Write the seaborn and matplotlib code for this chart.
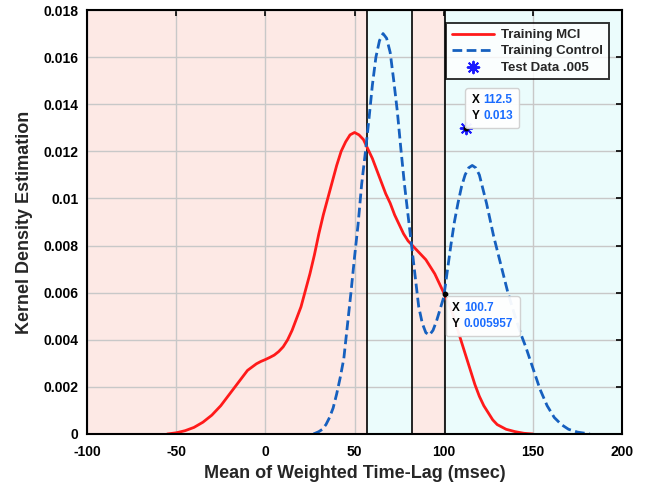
import matplotlib
matplotlib.use("Agg")
import matplotlib.pyplot as plt
import seaborn as sns
import pandas as pd
from matplotlib.offsetbox import TextArea, HPacker, VPacker, AnnotationBbox

# ---- data ----
mci_x = [-55, -50, -45, -40, -35, -30, -25, -20, -15, -10, -5, -2.5, 0, 2.5, 5, 7.5, 10,
         12.5, 15, 17.5, 20, 22.5, 25, 27.5, 30, 32.5, 35, 37.5, 40, 42.5, 45, 47.5, 50,
         52.5, 55, 57.5, 60, 62.5, 65, 67.5, 70, 72.5, 75, 77.5, 80, 82.5, 85, 87.5, 90,
         92.5, 95, 97.5, 100, 102.5, 105, 107.5, 110, 112.5, 115, 117.5, 120, 122.5, 125,
         127.5, 130, 135, 140, 145, 150]
mci_y = [0, 0.00005, 0.00014, 0.00028, 0.0005, 0.0008, 0.0012, 0.0017, 0.0022, 0.0027,
         0.00298, 0.00308, 0.00316, 0.00325, 0.00335, 0.0035, 0.0037, 0.0040, 0.0044,
         0.0049, 0.0054, 0.0061, 0.0068, 0.0076, 0.0085, 0.0093, 0.0100, 0.0107, 0.0114,
         0.0120, 0.0124, 0.0127, 0.0128, 0.0127, 0.0125, 0.0121, 0.0117, 0.0112, 0.0107,
         0.0102, 0.0098, 0.0093, 0.0089, 0.0085, 0.0082, 0.0080, 0.0078, 0.0076, 0.0074,
         0.0071, 0.0068, 0.0064, 0.0060, 0.0056, 0.0051, 0.0045, 0.0039, 0.0033, 0.0027,
         0.0021, 0.0016, 0.0012, 0.0009, 0.0006, 0.0004, 0.0002, 0.0001, 0.00003, 0]

ctrl_x = [27, 30, 32, 34, 36, 38, 40, 42, 44, 46, 48, 50, 52, 54, 56, 58, 60, 62, 64, 66,
          68, 70, 72, 74, 76, 78, 80, 82, 84, 86, 88, 90, 92, 94, 96, 98, 100, 102, 104,
          106, 108, 110, 112, 114, 116, 118, 120, 122, 124, 126, 128, 130, 132, 134, 136,
          138, 140, 143, 146, 150, 154, 158, 162, 166, 170, 175, 182]
ctrl_y = [0, 0.0001, 0.0002, 0.0004, 0.0007, 0.0011, 0.0017, 0.0024, 0.0032, 0.0046,
          0.0060, 0.0075, 0.0089, 0.0106, 0.0119, 0.0133, 0.0148, 0.0160, 0.0167, 0.0170,
          0.0168, 0.0162, 0.0150, 0.0137, 0.0121, 0.0106, 0.0093, 0.0080, 0.0067, 0.0054,
          0.0047, 0.0043, 0.0042, 0.0044, 0.0048, 0.0053, 0.0058, 0.0069, 0.0080, 0.0090,
          0.0098, 0.0105, 0.0110, 0.0113, 0.0114, 0.0113, 0.0110, 0.0104, 0.0098, 0.0091,
          0.0084, 0.0078, 0.0072, 0.0066, 0.0060, 0.0055, 0.0050, 0.0043, 0.0037, 0.0028,
          0.0019, 0.0012, 0.0007, 0.0004, 0.0002, 0.00008, 0]

test_x = [112.5]
test_y = [0.013]

thresholds = [56.9, 82.1, 100.7]
tip1 = (112.5, 0.013, "112.5", "0.013")
tip2 = (100.7, 0.005957, "100.7", "0.005957")

x_ticks = [-100, -50, 0, 50, 100, 150, 200]
y_ticks = [0, 0.002, 0.004, 0.006, 0.008, 0.01, 0.012, 0.014, 0.016, 0.018]
y_tick_labels = ["0", "0.002", "0.004", "0.006", "0.008", "0.01", "0.012", "0.014", "0.016", "0.018"]

# ---- style ----
sns.set_style("white")
plt.rcParams["font.family"] = ["Liberation Sans", "DejaVu Sans"]
plt.rcParams["font.weight"] = "bold"

PINK = "#fde9e5"
CYAN = "#ebfcfc"
RED = "#ff1a1a"
BLUE = "#1660bf"
TIPBLUE = "#1a6cff"

fig = plt.figure(figsize=(6.5, 4.86), dpi=100)
ax = fig.add_axes([0.1338, 0.107, 0.8232, 0.8724])

xmin, xmax = x_ticks[0], x_ticks[-1]
bounds = [xmin] + thresholds + [xmax]
colors = [PINK, CYAN, PINK, CYAN]
for a, b, c in zip(bounds[:-1], bounds[1:], colors):
    ax.axvspan(a, b, color=c, zorder=0, lw=0)
for t in thresholds:
    ax.axvline(t, color="black", lw=1.2, zorder=1.5)

ax.set_axisbelow(True)
ax.grid(True, color="#c8c8c8", lw=1.0, zorder=1)

df_m = pd.DataFrame({"x": mci_x, "y": mci_y})
df_c = pd.DataFrame({"x": ctrl_x, "y": ctrl_y})
sns.lineplot(data=df_m, x="x", y="y", ax=ax, color=RED, lw=2.0, label="Training MCI",
             sort=False, zorder=3)
sns.lineplot(data=df_c, x="x", y="y", ax=ax, color=BLUE, lw=2.0, label="Training Control",
             sort=False, zorder=3)
ax.lines[-1].set_dashes([3.5, 1.6])
df_t = pd.DataFrame({"x": test_x, "y": test_y})
sns.scatterplot(data=df_t, x="x", y="y", ax=ax, marker=(8, 2, 0), s=70, color="#1a1aff",
                linewidth=1.4, label="Test Data .005", zorder=4)
ax.scatter(test_x, test_y, s=10, color="black", zorder=5)
ax.scatter([tip2[0]], [tip2[1]], s=10, color="black", zorder=5)

ax.set_xlim(xmin, xmax)
ax.set_ylim(y_ticks[0], y_ticks[-1])
ax.set_xticks(x_ticks)
ax.set_xticklabels([str(v) for v in x_ticks])
ax.set_yticks(y_ticks)
ax.set_yticklabels(y_tick_labels)
ax.tick_params(direction="in", length=4, width=1.2, top=True, right=True,
               labelsize=10, colors="black")
ax.tick_params(axis="x", pad=8)
ax.tick_params(axis="y", pad=6)
for lab in ax.get_xticklabels() + ax.get_yticklabels():
    lab.set_fontweight("bold")
for s in ax.spines.values():
    s.set_color("black")
    s.set_linewidth(1.5)
    s.set_zorder(6)

ax.set_xlabel("Mean of Weighted Time-Lag (msec)", fontsize=13, fontweight="bold", labelpad=4)
ax.set_ylabel("Kernel Density Estimation", fontsize=13, fontweight="bold", labelpad=8)

leg = ax.legend(loc="upper right", bbox_to_anchor=(0.988, 0.985), frameon=True,
                fancybox=False, edgecolor="black", fontsize=9.5, handlelength=3.2,
                borderpad=0.45, labelspacing=0.3, handletextpad=0.5)
leg.get_frame().set_linewidth(1.4)
for txt in leg.get_texts():
    txt.set_fontweight("bold")


def datatip(xv, yv, sx, sy, xybox, align):
    fs = 8.5
    r1 = HPacker(children=[TextArea("X", textprops=dict(color="black", fontsize=fs)),
                           TextArea(sx, textprops=dict(color=TIPBLUE, fontsize=fs, fontweight="bold"))],
                 sep=3, pad=0)
    r2 = HPacker(children=[TextArea("Y", textprops=dict(color="black", fontsize=fs)),
                           TextArea(sy, textprops=dict(color=TIPBLUE, fontsize=fs, fontweight="bold"))],
                 sep=3, pad=0)
    box = VPacker(children=[r1, r2], sep=3, pad=0, align="left")
    ab = AnnotationBbox(box, (xv, yv), xybox=xybox, boxcoords="offset points",
                        box_alignment=align, frameon=True, pad=0.45,
                        bboxprops=dict(boxstyle="round,pad=0.45,rounding_size=0.2",
                                       facecolor="white", edgecolor="#d0d0d0", lw=1,
                                       alpha=0.95))
    ab.set_zorder(7)
    ax.add_artist(ab)


datatip(tip1[0], tip1[1], tip1[2], tip1[3], (4, 4), (0, 0))
datatip(tip2[0], tip2[1], tip2[2], tip2[3], (5, -6), (0, 1))

fig.savefig("out.png", dpi=100)
